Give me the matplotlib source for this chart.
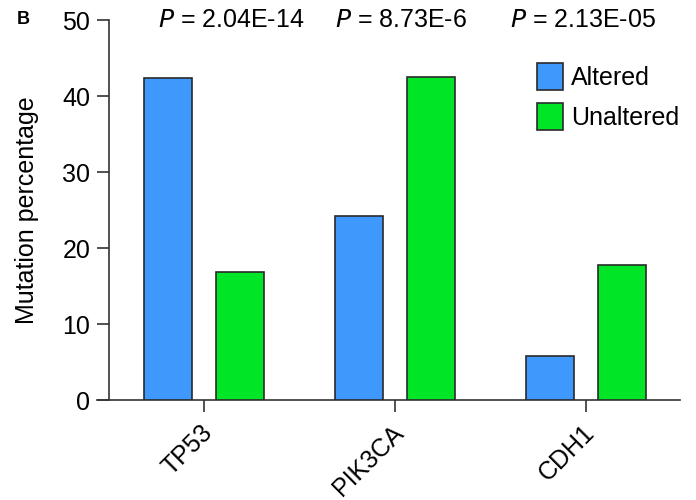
import numpy as np
import matplotlib
matplotlib.use("Agg")
import matplotlib.pyplot as plt
from matplotlib.transforms import ScaledTranslation

plt.rcParams['font.family'] = ['Liberation Sans', 'DejaVu Sans']

genes = ['TP53', 'PIK3CA', 'CDH1']
altered = [42.4, 24.2, 5.8]
unaltered = [16.8, 42.5, 17.7]
pvals = ['2.04E-14', '8.73E-6', '2.13E-05']
yticks = [0, 10, 20, 30, 40, 50]

blue = '#3f99fc'
green = '#00e626'
edge = '#2a2a2a'
fs = 18

fig = plt.figure(figsize=(6.96, 5), dpi=100)
ax = fig.add_axes([97 / 696, 0.2, (680 - 97) / 696, 0.76])

x = np.arange(len(genes))
w = 0.251
off = 0.188
ax.bar(x - off, altered, w, color=blue, edgecolor=edge, linewidth=1.2, label='Altered', zorder=3)
ax.bar(x + off, unaltered, w, color=green, edgecolor=edge, linewidth=1.2, label='Unaltered', zorder=3)

ax.set_xlim(-0.56, 2.49)
ax.set_ylim(0, 50)
ax.spines['top'].set_visible(False)
ax.spines['right'].set_visible(False)
ax.spines['left'].set_position(('data', -0.497))
for s in ['left', 'bottom']:
    ax.spines[s].set_color('#333333')
    ax.spines[s].set_linewidth(1.2)

ax.set_yticks(yticks)
ax.set_xticks(x)
ax.set_xticklabels(genes, rotation=45, ha='right', va='top', rotation_mode='anchor')
ax.tick_params(axis='y', length=8.6, width=1.2, color='#333333', labelsize=fs, pad=5)
ax.tick_params(axis='x', length=8.4, width=1.2, color='#333333', labelsize=fs, pad=6.5)
for lab in ax.get_xticklabels():
    lab.set_transform(lab.get_transform() + ScaledTranslation(-3 / 72, 0, fig.dpi_scale_trans))
ax.set_ylabel('Mutation percentage', fontsize=fs, labelpad=17)

# p-value annotations
pshift = [0.14, 0.03, -0.02]
for i, p in enumerate(pvals):
    ax.text(x[i] + pshift[i], 50, r'$\it{P}$' + ' = ' + p, ha='center', va='center',
            fontsize=fs, clip_on=False)

fig.text(17 / 696, 1 - 20 / 500, 'B', fontsize=13, fontweight='bold', va='center', ha='left')

ax.legend(loc='upper left', bbox_to_anchor=((537 - 97) / 583, (400 - 65) / 380 + 0.005),
          frameon=False, fontsize=fs, handlelength=1.04, handleheight=1.3,
          handletextpad=0.32, labelspacing=0.5, borderaxespad=0, borderpad=0)

fig.savefig('out.png', dpi=100)
